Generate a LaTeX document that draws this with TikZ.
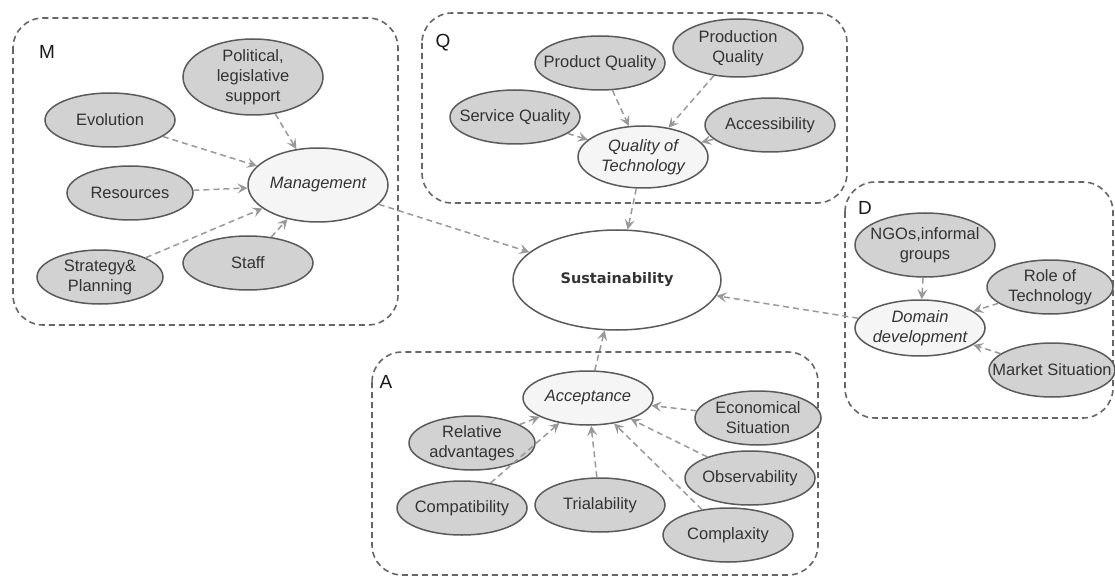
\documentclass[tikz,border=0pt]{standalone}
\usepackage{fontspec}
\setmainfont{Liberation Sans}
\newfontfamily\comicfont{DejaVu Sans}
\usetikzlibrary{arrows.meta,shapes.geometric}
\definecolor{facgray}{HTML}{D2D2D2}
\definecolor{cengray}{HTML}{F5F5F5}
\definecolor{edgegray}{HTML}{5A5A5A}
\definecolor{boxgray}{HTML}{666666}
\definecolor{arrgray}{HTML}{999999}
\tikzset{
  base/.style={ellipse, draw=edgegray, line width=1.5pt, inner xsep=-16pt, inner ysep=-8pt, align=center,
    font=\fontsize{16.5}{20}\selectfont, text=black!80},
  fac/.style={base, fill=facgray, minimum width=130pt, minimum height=54pt},
  cen/.style={base, fill=cengray, minimum width=130pt, minimum height=54pt, font=\fontsize{16.5}{20}\selectfont\itshape},
  grp/.style={draw=boxgray, line width=1.6pt, dash pattern=on 6pt off 4pt, rounded corners=30pt},
  lbl/.style={font=\fontsize{19}{21}\selectfont, text=black!90},
  arr/.style={draw=arrgray, line width=1.5pt, dash pattern=on 6pt off 4pt,
    -{Stealth[length=10pt,width=10pt,inset=4pt]}},
}
\begin{document}
\begin{tikzpicture}[x=1pt,y=-1pt]
\useasboundingbox (0,0) rectangle (1115,577);
% groups
\draw[grp] (13,18) rectangle (398,325);
\draw[grp] (422,13) rectangle (847,203);
\draw[grp] (845,182) rectangle (1113,418);
\draw[grp] (372,352) rectangle (818,575);
\node[lbl] (lM) at (47,52) {M};
\node[lbl] (lQ) at (443,43) {Q};
\node[lbl] (lD) at (865,208) {D};
\node[lbl] (lA) at (386,382) {A};
% M
\node[fac, minimum width=140pt, minimum height=76pt] (pol) at (253,77) {Political,\\legislative\\support};
\node[fac] (evo) at (110,120) {Evolution};
\node[fac, minimum width=126pt] (res) at (130,193) {Resources};
\node[cen, minimum width=140pt, minimum height=74pt] (mgmt) at (318,185) {Management};
\node[fac, minimum width=126pt] (strat) at (100,277) {Strategy\&\\Planning};
\node[fac] (staff) at (248,263) {Staff};
% Q
\node[fac] (pq) at (600,63) {Product Quality};
\node[fac, minimum height=58pt] (prodq) at (738,48) {Production\\Quality};
\node[fac] (sq) at (515,117) {Service Quality};
\node[fac] (acc) at (770,125) {Accessibility};
\node[cen, minimum height=62pt] (qt) at (643,157) {Quality of\\Technology};
% Sustainability
\node[base, fill=white, minimum width=208pt, minimum height=100pt, font=\comicfont\bfseries\fontsize{14.5}{16}\selectfont] (sus) at (617,280) {Sustainability};
% D
\node[fac, minimum width=140pt, minimum height=64pt] (ngo) at (925,245) {NGOs,informal\\groups};
\node[fac, minimum width=126pt] (role) at (1050,287) {Role of\\Technology};
\node[cen, minimum height=56pt] (dd) at (920,328) {Domain\\development};
\node[fac, minimum width=126pt] (mkt) at (1052,370) {Market Situation};
% A
\node[cen] (accp) at (588,398) {Acceptance};
\node[fac, minimum width=126pt] (econ) at (758,418) {Economical\\Situation};
\node[fac, minimum width=126pt] (rel) at (472,443) {Relative\\advantages};
\node[fac] (comp) at (462,508) {Compatibility};
\node[fac] (trial) at (600,505) {Trialability};
\node[fac] (obs) at (750,478) {Observability};
\node[fac] (cplx) at (728,535) {Complaxity};
% arrows M
\draw[arr] (pol) -- (mgmt);
\draw[arr] (evo) -- (mgmt);
\draw[arr] (res) -- (mgmt);
\draw[arr] (strat) -- (mgmt);
\draw[arr] (staff) -- (mgmt);
% arrows Q
\draw[arr] (sq) -- (qt);
\draw[arr] (pq) -- (qt);
\draw[arr] (prodq) -- (qt);
\draw[arr] (acc) -- (qt);
% arrows D
\draw[arr] (ngo) -- (dd);
\draw[arr] (role) -- (dd);
\draw[arr] (mkt) -- (dd);
% arrows A
\draw[arr] (econ) -- (accp);
\draw[arr] (rel) -- (accp);
\draw[arr] (comp) -- (accp);
\draw[arr] (trial) -- (accp);
\draw[arr] (obs) -- (accp);
\draw[arr] (cplx) -- (accp);
% to Sustainability
\draw[arr] (mgmt) -- (sus);
\draw[arr] (qt) -- (sus);
\draw[arr] (dd) -- (sus);
\draw[arr] (accp) -- (sus);
\end{tikzpicture}
\end{document}
